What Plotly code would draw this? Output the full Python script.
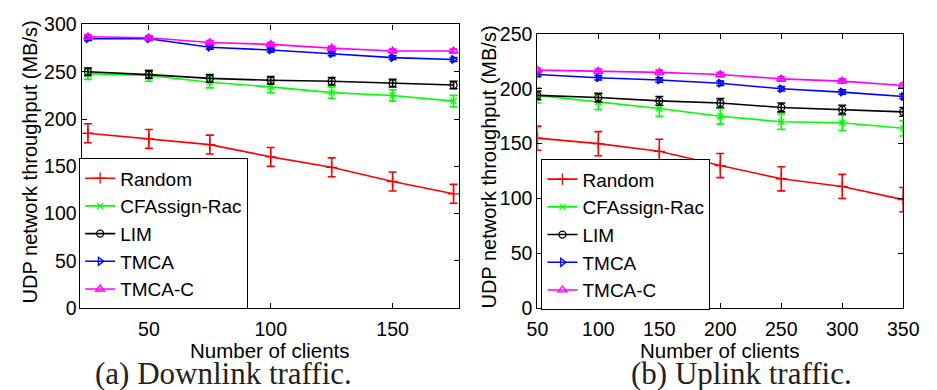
import plotly.graph_objects as go

# ---------------- data ----------------
series_names = ["Random", "CFAssign-Rac", "LIM", "TMCA", "TMCA-C"]

down_clients = [25, 50, 75, 100, 125, 150, 175]
down_random = [185, 179, 173, 160, 149, 134, 121]
down_cfassign = [248, 246, 239, 234, 228, 225, 219]
down_lim = [250, 247, 243, 241, 240, 238, 236]
down_tmca = [285, 285, 276, 273, 269, 265, 263]
down_tmcac = [287, 286, 281, 279, 275, 272, 272]
down_random_err = [10, 10, 10, 10, 10, 10, 10]
down_cfassign_err = [6, 6, 6, 6, 6, 6, 6]
down_lim_err = [4, 4, 4, 4, 4, 4, 4]
down_tmca_err = [2, 2, 2, 2, 2, 2, 2]
down_tmcac_err = [2, 2, 2, 2, 2, 2, 2]

up_clients = [50, 100, 150, 200, 250, 300, 350]
up_random = [155, 150, 143, 130, 118, 111, 99]
up_cfassign = [194, 188, 182, 175, 170, 169, 164]
up_lim = [194, 192, 189, 187, 183, 181, 179]
up_tmca = [213, 210, 208, 205, 200, 197, 193]
up_tmcac = [217, 216, 215, 213, 209, 207, 203]
up_random_err = [11, 11, 11, 11, 11, 11, 11]
up_cfassign_err = [7, 7, 7, 7, 7, 7, 7]
up_lim_err = [4, 4, 4, 4, 4, 4, 4]
up_tmca_err = [2, 2, 2, 2, 2, 2, 2]
up_tmcac_err = [2, 2, 2, 2, 2, 2, 2]

down_xticks = [50, 100, 150]
down_yticks = [0, 50, 100, 150, 200, 250, 300]
up_xticks = [50, 100, 150, 200, 250, 300, 350]
up_yticks = [0, 50, 100, 150, 200, 250]

x_title = "Number of clients"
y_title = "UDP network throughput (MB/s)"
caption_a = "(a) Downlink traffic."
caption_b = "(b) Uplink traffic."

# ---------------- styles ----------------
colors = ["#ff0000", "#00ff00", "#000000", "#0000ff", "#ff00ff"]
symbols = ["cross-thin-open", "x-thin-open", "circle-open", "triangle-right-open", "triangle-up-open"]
msizes = [8, 6, 7, 7, 8]

W, H = 937, 390
def px_x(p):
    return p / W
def px_y(p):
    return 1 - p / H

fig = go.Figure()

down_vals = [down_random, down_cfassign, down_lim, down_tmca, down_tmcac]
down_errs = [down_random_err, down_cfassign_err, down_lim_err, down_tmca_err, down_tmcac_err]
up_vals = [up_random, up_cfassign, up_lim, up_tmca, up_tmcac]
up_errs = [up_random_err, up_cfassign_err, up_lim_err, up_tmca_err, up_tmcac_err]

for i, name in enumerate(series_names):
    fig.add_trace(go.Scatter(
        x=down_clients, y=down_vals[i], name=name, mode="lines+markers",
        line=dict(color=colors[i], width=1.6),
        marker=dict(symbol=symbols[i], size=msizes[i], color=colors[i],
                    line=dict(color=colors[i], width=1.3)),
        error_y=dict(type="data", array=down_errs[i], visible=True,
                     color=colors[i], thickness=1.6, width=4),
        xaxis="x", yaxis="y", legend="legend",
    ))
for i, name in enumerate(series_names):
    fig.add_trace(go.Scatter(
        x=up_clients, y=up_vals[i], name=name, mode="lines+markers",
        line=dict(color=colors[i], width=1.6),
        marker=dict(symbol=symbols[i], size=msizes[i], color=colors[i],
                    line=dict(color=colors[i], width=1.3)),
        error_y=dict(type="data", array=up_errs[i], visible=True,
                     color=colors[i], thickness=1.6, width=4),
        xaxis="x2", yaxis="y2", legend="legend2",
    ))

tick_font = dict(family="Liberation Sans, Arial, sans-serif", size=19.5, color="black")
axis_common = dict(showline=True, mirror="ticks", linecolor="black", linewidth=1.2,
                   ticks="inside", ticklen=5, tickcolor="black", showgrid=False,
                   zeroline=False, tickfont=tick_font)

legend_common = dict(
    bgcolor="white", bordercolor="black", borderwidth=1.2,
    font=dict(family="Liberation Sans, Arial, sans-serif", size=19, color="black"),
    xanchor="left", yanchor="bottom", tracegroupgap=0, itemwidth=30,
)

xt_font = dict(family="Liberation Sans, Arial, sans-serif", size=20.5, color="black")
yt_font = dict(family="Liberation Sans, Arial, sans-serif", size=20, color="black")
cap_font = dict(family="Liberation Serif, Times New Roman, serif", size=31, color="#222222")

fig.update_layout(
    width=W, height=H,
    margin=dict(l=0, r=0, t=0, b=0),
    paper_bgcolor="white", plot_bgcolor="white",
    xaxis=dict(domain=[px_x(72.7), px_x(461.7)], range=[22.4, 177.4],
               tickvals=down_xticks, anchor="y", ticklabelstandoff=3, **axis_common),
    yaxis=dict(domain=[px_y(315), px_y(14.3)], range=[0, 300],
               tickvals=down_yticks, anchor="x", **axis_common),
    xaxis2=dict(domain=[px_x(542), px_x(918.7)], range=[50, 350],
                tickvals=up_xticks, anchor="y2", ticklabelstandoff=3, **axis_common),
    yaxis2=dict(domain=[px_y(315), px_y(24.3)], range=[0, 250],
                tickvals=up_yticks, anchor="x2", **axis_common),
    legend=dict(x=px_x(70), y=px_y(316), **legend_common),
    legend2=dict(x=px_x(546), y=px_y(317), **legend_common),
    annotations=[
        dict(text=x_title, x=px_x(267), y=px_y(360), xref="paper", yref="paper",
             showarrow=False, font=xt_font, xanchor="center", yanchor="middle"),
        dict(text=x_title, x=px_x(730), y=px_y(360), xref="paper", yref="paper",
             showarrow=False, font=xt_font, xanchor="center", yanchor="middle"),
        dict(text=y_title, x=px_x(20), y=px_y(160), xref="paper", yref="paper",
             showarrow=False, font=yt_font, textangle=-90, xanchor="center", yanchor="middle"),
        dict(text=y_title, x=px_x(492), y=px_y(165), xref="paper", yref="paper",
             showarrow=False, font=yt_font, textangle=-90, xanchor="center", yanchor="middle"),
        dict(text=caption_a, x=px_x(219), y=px_y(384), xref="paper", yref="paper",
             showarrow=False, font=cap_font, xanchor="center", yanchor="middle"),
        dict(text=caption_b, x=px_x(752), y=px_y(384), xref="paper", yref="paper",
             showarrow=False, font=cap_font, xanchor="center", yanchor="middle"),
    ],
)

fig.write_html("out.html")
